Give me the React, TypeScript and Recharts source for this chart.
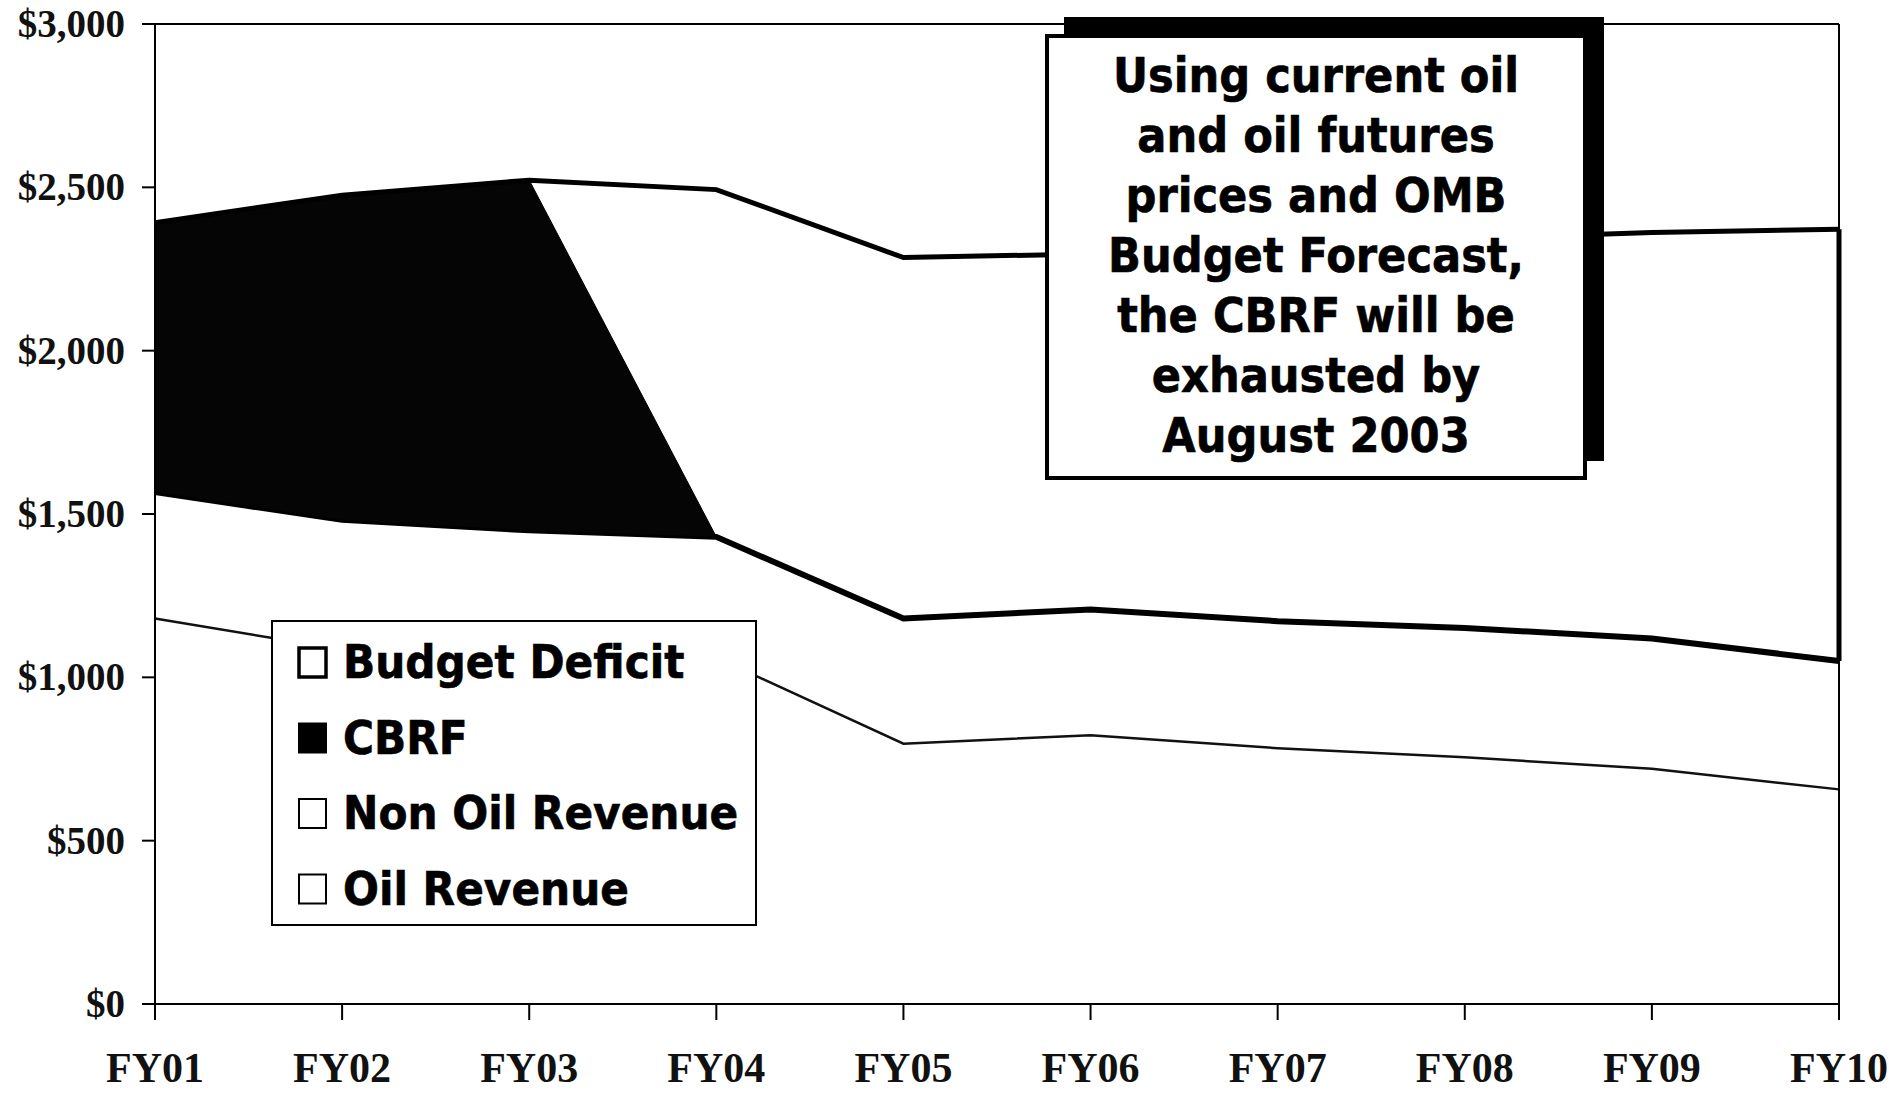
import React from 'react';
import { AreaChart, Area, XAxis, YAxis, ReferenceLine, Legend } from 'recharts';

// ---- data (values in $ millions) ----
const years = ['FY01', 'FY02', 'FY03', 'FY04', 'FY05', 'FY06', 'FY07', 'FY08', 'FY09', 'FY10'];
const oilRevenue = [1180, 1085, 1070, 1060, 797, 823, 783, 755, 720, 657];
const nonOilRevenue = [387, 397, 380, 370, 383, 385, 389, 396, 399, 393];
const cbrf = [825, 994, 1072, 0, 0, 0, 0, 0, 0, 0];
const budgetDeficit = [0, 0, 0, 1063, 1105, 1088, 1146, 1192, 1243, 1322];
const yTicks = [0, 500, 1000, 1500, 2000, 2500, 3000];

const legendLabels = ['Budget Deficit', 'CBRF', 'Non Oil Revenue', 'Oil Revenue'];
const noteLines = [
  'Using current oil',
  'and oil futures',
  'prices and OMB',
  'Budget Forecast,',
  'the CBRF will be',
  'exhausted by',
  'August 2003',
];

const data = years.map((year, i) => ({
  year,
  oil: oilRevenue[i],
  nonOil: nonOilRevenue[i],
  cbrf: cbrf[i],
  deficit: budgetDeficit[i],
}));

const last = years.length - 1;
const lastNonOilTop = oilRevenue[last] + nonOilRevenue[last];
const lastTotal = lastNonOilTop + cbrf[last] + budgetDeficit[last];

const SERIF = "'Liberation Serif', 'Times New Roman', serif";
const SANS = "'DejaVu Sans Condensed', 'DejaVu Sans', Verdana, sans-serif";

const XTick = (props: any) => {
  const { x, y, payload } = props;
  return (
    <text x={x} y={y} dy={62} textAnchor="middle" fontFamily={SERIF} fontWeight={700} fontSize={42} fill="#111">
      {payload.value}
    </text>
  );
};

const YTick = (props: any) => {
  const { x, y, payload } = props;
  return (
    <text x={x} y={y} dy={13} textAnchor="end" fontFamily={SERIF} fontWeight={700} fontSize={39} fill="#111">
      {'$' + Number(payload.value).toLocaleString('en-US')}
    </text>
  );
};

const swatchStyle: Record<string, { fill: string; sw: number }> = {
  'Budget Deficit': { fill: '#fff', sw: 3.5 },
  CBRF: { fill: '#000', sw: 2 },
  'Non Oil Revenue': { fill: '#fff', sw: 2 },
  'Oil Revenue': { fill: '#fff', sw: 2 },
};

const renderLegend = () => (
  <div style={{ width: 486, height: 306, border: '2px solid #000', background: '#fff', boxSizing: 'border-box' }}>
    <svg width={482} height={302} style={{ display: 'block' }}>
      {legendLabels.map((label, i) => {
        const base = 56 + i * 75.5;
        const s = swatchStyle[label];
        return (
          <g key={label}>
            <rect x={26} y={base - 30} width={27} height={29} fill={s.fill} stroke="#000" strokeWidth={s.sw} />
            <text
              x={70}
              y={base}
              fontFamily={SANS}
              fontStretch="condensed"
              fontWeight={700}
              fontSize={47}
              fill="#000"
              stroke="#000"
              strokeWidth={0.6}
            >
              {label}
            </text>
          </g>
        );
      })}
    </svg>
  </div>
);

export default function App() {
  return (
    <div style={{ position: 'absolute', left: 0, top: 0, width: 1889, height: 1093, background: '#fff' }}>
      <AreaChart
        width={1889}
        height={1093}
        data={data}
        margin={{ top: 24, right: 50, bottom: 0, left: 0 }}
      >
        <XAxis
          dataKey="year"
          height={89}
          tick={<XTick />}
          tickSize={16}
          tickMargin={0}
          axisLine={{ stroke: '#000', strokeWidth: 2 }}
          tickLine={{ stroke: '#000', strokeWidth: 2 }}
          interval={0}
        />
        <YAxis
          width={155}
          domain={[0, 3000]}
          ticks={yTicks}
          tick={<YTick />}
          tickSize={13}
          tickMargin={17}
          axisLine={{ stroke: '#000', strokeWidth: 2 }}
          tickLine={{ stroke: '#000', strokeWidth: 2 }}
          interval={0}
        />
        <Area
          type="linear"
          dataKey="oil"
          name="Oil Revenue"
          stackId="a"
          stroke="#111"
          strokeWidth={2.5}
          fill="#fff"
          fillOpacity={0}
          isAnimationActive={false}
        />
        <Area
          type="linear"
          dataKey="nonOil"
          name="Non Oil Revenue"
          stackId="a"
          stroke="#000"
          strokeWidth={6}
          fill="#fff"
          fillOpacity={0}
          isAnimationActive={false}
        />
        <Area
          type="linear"
          dataKey="cbrf"
          name="CBRF"
          stackId="a"
          stroke="#000"
          strokeWidth={1}
          fill="#050505"
          fillOpacity={1}
          isAnimationActive={false}
        />
        <Area
          type="linear"
          dataKey="deficit"
          name="Budget Deficit"
          stackId="a"
          stroke="#000"
          strokeWidth={5}
          fill="#fff"
          fillOpacity={0}
          isAnimationActive={false}
        />
        <ReferenceLine y={3000} stroke="#000" strokeWidth={2} />
        <ReferenceLine x={years[last]} stroke="#000" strokeWidth={2} />
        <ReferenceLine
          segment={[
            { x: years[last], y: lastNonOilTop },
            { x: years[last], y: lastTotal },
          ]}
          stroke="#000"
          strokeWidth={5}
        />
        <Legend
          content={renderLegend}
          layout="vertical"
          align="center"
          verticalAlign="middle"
          wrapperStyle={{ position: 'absolute', left: 271, top: 620, width: 486, height: 306 }}
        />
      </AreaChart>
      <svg
        width={1889}
        height={1093}
        style={{ position: 'absolute', left: 0, top: 0, pointerEvents: 'none' }}
      >
        <rect x={1064} y={17} width={540} height={444} fill="#000" />
        <rect x={1047} y={36} width={538} height={442} fill="#fff" stroke="#000" strokeWidth={4} />
        {noteLines.map((line, i) => (
          <text
            key={line}
            x={1316}
            y={92 + i * 60}
            textAnchor="middle"
            fontFamily={SANS}
            fontStretch="condensed"
            fontWeight={700}
            fontSize={48}
            fill="#000"
            stroke="#000"
            strokeWidth={0.6}
          >
            {line}
          </text>
        ))}
      </svg>
    </div>
  );
}
